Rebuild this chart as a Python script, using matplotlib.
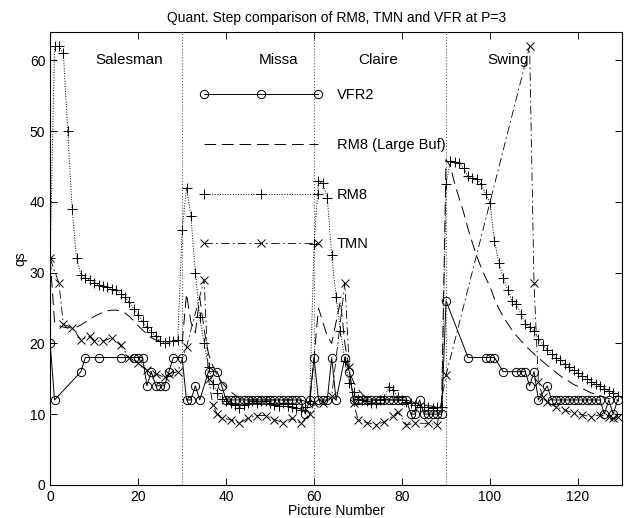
import matplotlib
matplotlib.use("Agg")
import matplotlib.pyplot as plt

plt.rcParams['font.family'] = ['Liberation Sans', 'DejaVu Sans']
plt.rcParams['font.size'] = 10

# ---- data ----
# VFR2 (coded frames only)
vfr2_frames = [0, 1, 7, 8, 11, 16, 19, 20, 21, 22, 23, 24, 25, 26, 27, 28, 30,
               31, 32, 33, 34, 36, 38, 39, 40, 41, 42, 43, 44, 45, 46, 47, 48, 49,
               50, 51, 52, 53, 54, 55, 56, 57, 58, 59,
               60, 61, 62, 63, 64, 65, 67, 68, 69, 70, 71, 72, 73, 74, 75, 76, 77,
               78, 79, 80, 81, 82, 83, 84, 85, 86, 87, 88, 89,
               90, 95, 99, 100, 101, 103, 106, 107, 108, 109, 110, 111, 113, 114,
               115, 116, 117, 118, 119, 120, 121, 122, 123, 124, 125, 126, 127, 128, 129]
vfr2_qs = [20, 12, 16, 18, 18, 18, 18, 18, 18, 14, 16, 14, 14, 14, 16, 18, 18,
           12, 12, 14, 12, 16, 16, 14, 12, 12, 12, 12, 12, 12, 12, 12, 12, 12,
           12, 12, 12, 12, 12, 12, 12, 12, 10, 12,
           18, 12, 12, 12, 18, 12, 18, 16, 12, 12, 12, 12, 12, 12, 12, 12, 12,
           12, 12, 12, 12, 10, 10, 12, 10, 10, 10, 10, 10,
           26, 18, 18, 18, 18, 16, 16, 16, 16, 14, 16, 12, 14, 12,
           12, 12, 12, 12, 12, 12, 12, 12, 12, 12, 12, 10, 12, 10, 12]

# RM8 (Large Buf), every frame
largebuf_qs = [32, 23, 22.5, 22.3, 22.2, 22.2, 22.3, 22.6, 23, 23.4,
               23.8, 24.1, 24.4, 24.6, 24.7, 24.7, 24.6, 24.3, 23.8, 23.2,
               22.5, 21.9, 21.3, 20.8, 20.5, 20.3, 20.2, 20.2, 20.3, 20.4,
               20, 27, 23, 21.5, 26.5, 22, 18.5, 16.8, 15.5, 14.5,
               13.8, 13.2, 12.7, 12.3, 12, 12, 12, 12, 12, 12,
               12, 12, 12, 12, 12, 12, 12, 12, 11.8, 11.5,
               18, 25, 23, 21, 20, 23, 26, 20, 16, 14.5,
               13.5, 12.8, 12.3, 12, 12, 12, 12, 12, 12, 12,
               12, 12, 11.8, 11.6, 11.4, 11.3, 11.2, 11.1, 11, 11,
               46, 45, 42.5, 40.5, 38.5, 36.2, 34.2, 32.3, 30.7, 29.3,
               28, 26.3, 24.9, 23.8, 22.8, 21.9, 21.1, 20.4, 19.7, 19.1,
               18.5, 18, 17.4, 16.9, 16.4, 15.9, 15.4, 15, 14.6, 14.2,
               13.9, 13.6, 13.3, 13, 12.8, 12.6, 12.4, 12.2, 12.1, 12]

# RM8, every frame
rm8_qs = [32, 62, 62, 61, 50, 39, 32, 29.7, 29.2, 29,
          28.6, 28.3, 28.1, 27.9, 27.7, 27.5, 27, 26.5, 25.8, 24.9,
          24, 23.1, 22.3, 21.6, 21, 20.4, 20, 20.3, 20.4, 20.5,
          36, 42, 38, 30, 23.7, 20, 16.7, 14.3, 13, 12.2,
          11.8, 11.5, 11.3, 10.9, 11.3, 11.6, 11.8, 11.6, 11.8, 11.8,
          11.6, 11.3, 11.1, 11.5, 11.2, 11, 10.9, 10.6, 11, 11.8,
          34, 43, 42.6, 40.6, 32.5, 26.5, 21.8, 17.5, 14.4, 13.1,
          12.2, 12, 11.8, 11.5, 11.6, 12, 12.2, 13.9, 13.4, 12.4,
          12, 11.7, 11.5, 11.3, 11, 11, 11, 10.8, 11, 11,
          42.5, 45.8, 45.7, 45.5, 44.8, 43.6, 43.4, 43.2, 42.5, 41.1,
          39.9, 34.5, 31.4, 29.3, 27.6, 26, 25.6, 24.2, 22.8, 22.3,
          21.8, 20.6, 19.8, 19.1, 18.5, 18, 17.6, 17.1, 16.7, 16.2,
          15.8, 15.4, 15, 14.6, 14.3, 14, 13.6, 13.3, 13, 12.6]
all_frames = list(range(len(rm8_qs)))

# TMN (coded frames only)
tmn_frames = [0, 2, 3, 5, 7, 9, 10, 12, 14, 16, 18, 20, 22, 24, 26, 27, 29,
              31, 35, 36, 37, 38, 39, 41, 43, 45, 47, 49, 51, 53, 55, 57, 59,
              60, 62, 64, 67, 68, 69, 70, 72, 74, 76, 78, 79, 81, 83, 86, 88,
              90, 109, 110, 111, 112, 113, 115, 117, 119, 121, 123, 125, 127, 128, 129]
tmn_qs = [32, 28.5, 22.7, 22.2, 20.5, 21, 20.3, 20.3, 20.8, 19.7, 18, 17.2, 16.2, 15.7, 15.2, 15.7, 16,
          19.5, 29, 15, 11.3, 10, 9.5, 9.2, 8.7, 9.4, 9.8, 9.8, 9.2, 8.8, 9.4, 8.7, 10,
          11.5, 11.5, 12.5, 28.5, 16.6, 11.5, 9.2, 8.8, 8.5, 8.9, 9.8, 10.3, 8.5, 8.7, 8.7, 8.5,
          15.5, 62, 28.5, 14.5, 12.4, 11.7, 11, 10.6, 10.1, 9.9, 9.6, 9.9, 9.6, 9.4, 9.6]

sequences = ['Salesman', 'Missa', 'Claire', 'Swing']
seq_starts = [30, 60, 90]

# ---- plot ----
fig = plt.figure(figsize=(6.27, 5.18), dpi=100)
ax = fig.add_axes([0.08, 0.064, 0.912, 0.874])

for s in seq_starts:
    ax.axvline(s, color='0.35', linestyle=':', linewidth=0.8)

ax.plot(vfr2_frames, vfr2_qs, color='k', linestyle='-', linewidth=0.7,
        marker='o', markersize=6, markerfacecolor='none', markeredgewidth=0.7,
        label='VFR2')
ax.plot(all_frames, largebuf_qs, color='k', linestyle=(0, (12, 6)), linewidth=0.7,
        label='RM8 (Large Buf)')
ax.plot(all_frames, rm8_qs, color='k', linestyle=':', linewidth=0.7,
        marker='+', markersize=7, markeredgewidth=0.7, label='RM8')
ax.plot(tmn_frames, tmn_qs, color='k', linestyle=(0, (10, 4, 2, 4)), linewidth=0.6,
        marker='x', markersize=6, markeredgewidth=0.7, label='TMN')

# sequence names along the top
label_x = [18, 52, 74.5, 104]
for name, lx in zip(sequences, label_x):
    ax.text(lx, 60, name, ha='center', va='center', fontsize=11)

ax.set_xlim(0, 130)
ax.set_ylim(0, 64)
ax.set_xticks([0, 20, 40, 60, 80, 100, 120])
ax.set_yticks([0, 10, 20, 30, 40, 50, 60])
ax.tick_params(direction='in', top=True, right=True, length=5, width=0.7)
for sp in ax.spines.values():
    sp.set_linewidth(0.8)

ax.set_xlabel('Picture Number', labelpad=0)
ax.set_ylabel('qs', labelpad=2)
ax.set_title('Quant. Step comparison of RM8, TMN and VFR at P=3', fontsize=10, pad=7)

ax.legend(loc='upper left', bbox_to_anchor=(0.262, 0.876), frameon=False,
          numpoints=3, handlelength=8.4, handletextpad=1.0, labelspacing=2.45,
          borderpad=0, borderaxespad=0, fontsize=10.5)

fig.savefig('out.png', dpi=100)
